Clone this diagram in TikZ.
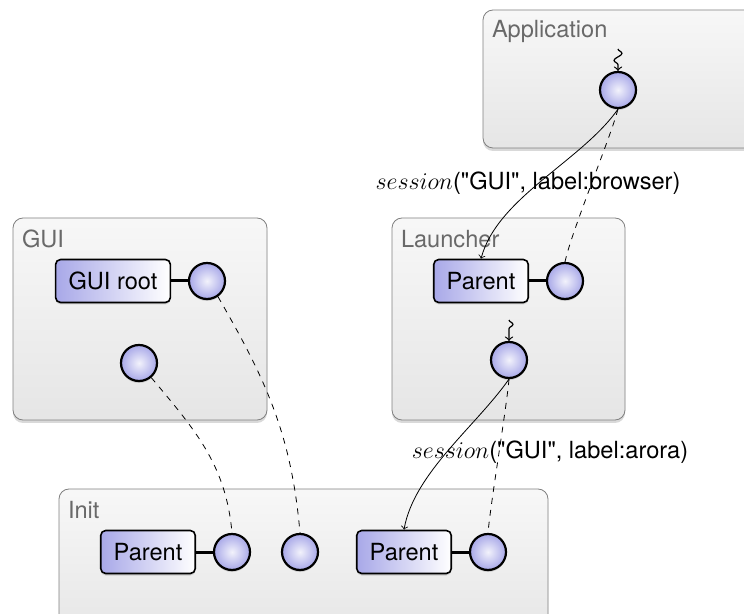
\documentclass[tikz,border=0pt]{standalone}
\usepackage{fontspec}
\setmainfont{TeX Gyre Heros}
\usetikzlibrary{positioning,shadows,decorations.pathmorphing}
\definecolor{portblue}{RGB}{168,168,232}
\definecolor{framegray}{RGB}{128,128,128}
\definecolor{titlegray}{RGB}{105,105,105}

\begin{document}
\begin{tikzpicture}[x=0.5pt,y=-0.5pt,node distance=42pt,on grid,
    font=\fontsize{11.8}{14}\selectfont,
    groupbox/.style={draw=framegray,rounded corners=5pt,top color=black!3,bottom color=black!10,
      drop shadow={shadow xshift=0pt,shadow yshift=-1.5pt,opacity=0.3}},
    grouplabel/.style={anchor=north west,inner sep=0pt,text=titlegray},
    parentbox/.style={draw,line width=0.8pt,rounded corners=2.5pt,left color=portblue,right color=white,
      minimum height=21.5pt,inner xsep=6.5pt,
      drop shadow={shadow xshift=0pt,shadow yshift=-1pt,opacity=0.3}},
    portcirc/.style={circle,draw,line width=1.1pt,minimum size=18pt,inner sep=0pt,
      inner color=white!85!portblue,outer color=portblue,
      drop shadow={shadow xshift=0pt,shadow yshift=-1pt,opacity=0.3}},
    linkline/.style={line width=1.5pt},
    sigline/.style={->,line width=0.6pt,decorate,
      decoration={snake,amplitude=2pt,segment length=7pt,post length=3pt}}]
  \useasboundingbox (0,0) rectangle (744,614);

  % groups
  \node[groupbox,minimum width=143.5pt,minimum height=69pt] (app) at (626.5,79) {};
  \node[groupbox,minimum width=127pt,minimum height=101pt] (gui) at (140,319) {};
  \node[groupbox,minimum width=116.5pt,minimum height=101pt] (launcher) at (508.5,319) {};
  \node[groupbox,minimum width=244.5pt,minimum height=75.5pt] (init) at (303.5,564.5) {};
  \node[grouplabel] (apptitle) at ([shift={(9,10)}]app.north west) {Application};
  \node[grouplabel] (guititle) at ([shift={(9,12)}]gui.north west) {GUI};
  \node[grouplabel] (launchertitle) at ([shift={(9,12)}]launcher.north west) {Launcher};
  \node[grouplabel] (inittitle) at ([shift={(9,12)}]init.north west) {Init};

  % parents and ports
  \node[portcirc] (appport) at (618,90) {};
  \node[parentbox] (guiroot) at (113,281) {GUI root};
  \node[portcirc,right=47pt of guiroot] (guiport) {};
  \node[portcirc] (guiport2) at (139,363) {};
  \node[parentbox] (lparent) at (481,281) {Parent};
  \node[portcirc,right=of lparent] (lport) {};
  \node[portcirc] (lport2) at (509,360) {};
  \node[parentbox] (iparent1) at (148,552) {Parent};
  \node[portcirc,right=of iparent1] (iport1) {};
  \node[portcirc] (iport0) at (300,552) {};
  \node[parentbox] (iparent2) at (404,552) {Parent};
  \node[portcirc,right=of iparent2] (iport2) {};

  \draw[linkline] (guiroot) -- (guiport);
  \draw[linkline] (lparent) -- (lport);
  \draw[linkline] (iparent1) -- (iport1);
  \draw[linkline] (iparent2) -- (iport2);

  \coordinate (appsig) at (618,49);
  \coordinate (lsig) at (509,320);
  \draw[sigline] (appsig) -- (appport.north);
  \draw[sigline] (lsig) -- (lport2.north);

  % sessions
  \node (lblbrowser) at (528,183) {$session$(\textquotedbl GUI\textquotedbl, label:browser)};
  \node (lblarora) at (550,452) {$session$(\textquotedbl GUI\textquotedbl, label:arora)};

  \path[->,thin]
    (appport.south) edge[out=-125,in=75,looseness=0.8] (lparent.north)
    (lport2.south) edge[out=-125,in=80,looseness=0.8] (iparent2.north);
  \path[dashed,thin]
    (appport.south) edge[out=-105,in=78,looseness=0.5] (lport.north)
    (guiport.-55) edge[out=-60,in=95] (iport0.north)
    (guiport2.-50) edge[out=-50,in=95] (iport1.north)
    (lport2.south) edge[out=-95,in=85,looseness=0.5] (iport2.north);
\end{tikzpicture}
\end{document}
